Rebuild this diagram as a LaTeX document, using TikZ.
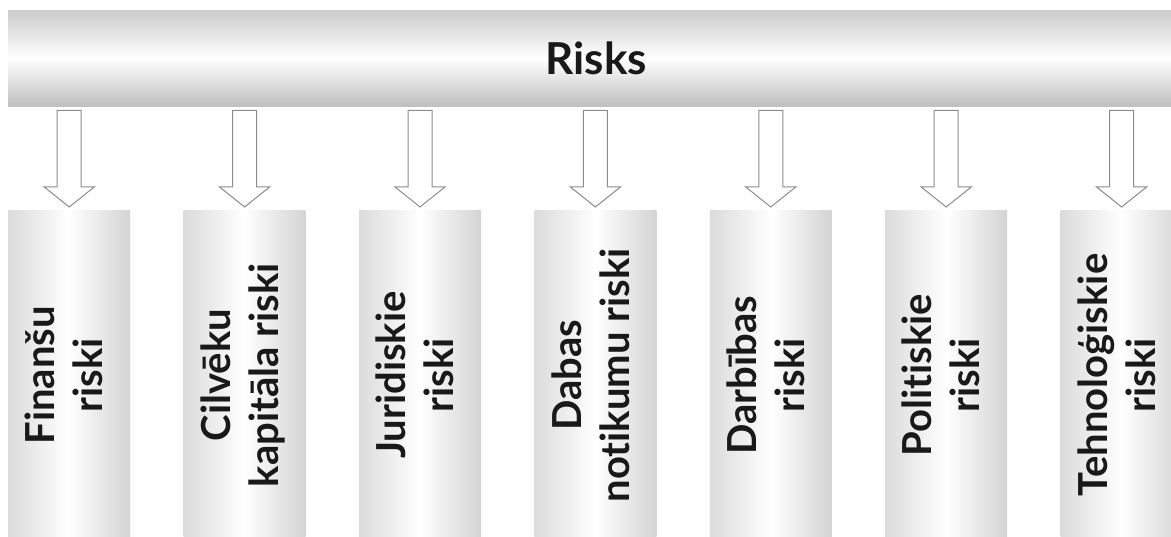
\documentclass[tikz,border=0pt]{standalone}
\usepackage{fontspec}
\setmainfont{Lato}[Ligatures={NoCommon,NoRequired,NoContextual}]
\usepackage{tikz}
\usetikzlibrary{calc, positioning}

\newcommand{\vtext}[1]{\rotatebox{90}{\begin{tabular}{@{}c@{}}#1\end{tabular}}}

\begin{document}
\begin{tikzpicture}[
    x=1pt, y=-1pt,
    node distance=53pt,
    every node/.style={text=black!90},
    bar/.style={rectangle, minimum width=1176pt, minimum height=96pt, inner sep=0pt,
                top color=black!20, bottom color=black!25, middle color=white,
                font=\fontsize{44}{44}\selectfont\bfseries},
    col/.style={rectangle, minimum width=122pt, minimum height=330pt, inner sep=0pt,
                left color=black!14, right color=black!17, middle color=white,
                font=\fontsize{40}{48}\selectfont\bfseries},
    blockarrow/.style={draw=black!45, fill=white, line width=1pt, line join=miter,
                to path={($(\tikztostart)+(-12,4)$) -- ($(\tikztotarget)+(-12,-23)$)
                  -- ($(\tikztotarget)+(-25,-23)$) -- ($(\tikztotarget)+(0,-3)$)
                  -- ($(\tikztotarget)+(25,-23)$) -- ($(\tikztotarget)+(12,-23)$)
                  -- ($(\tikztostart)+(12,4)$) -- cycle}},
]
\useasboundingbox (0,0) rectangle (1171,537);
\clip (0,0) rectangle (1171,537);

\node[bar, anchor=north west] (risks) at (8,10) {Risks};

\node[col, anchor=north west] (c1) at (8,210) {\vtext{Finanšu\\riski}};
\node[col, right=of c1] (c2) {\vtext{Cilvēku\\kapitāla riski}};
\node[col, right=of c2] (c3) {\vtext{Juridiskie\\riski}};
\node[col, right=of c3] (c4) {\vtext{Dabas\\notikumu riski}};
\node[col, right=of c4] (c5) {\vtext{Darbības\\riski}};
\node[col, right=of c5] (c6) {\vtext{Politiskie\\riski}};
\node[col, right=of c6] (c7) {\vtext{Tehnoloģiskie\\riski}};

\draw[blockarrow] (risks.south -| c1.north) to (c1.north);
\draw[blockarrow] (risks.south -| c2.north) to (c2.north);
\draw[blockarrow] (risks.south -| c3.north) to (c3.north);
\draw[blockarrow] (risks.south -| c4.north) to (c4.north);
\draw[blockarrow] (risks.south -| c5.north) to (c5.north);
\draw[blockarrow] (risks.south -| c6.north) to (c6.north);
\draw[blockarrow] (risks.south -| c7.north) to (c7.north);
\end{tikzpicture}
\end{document}
